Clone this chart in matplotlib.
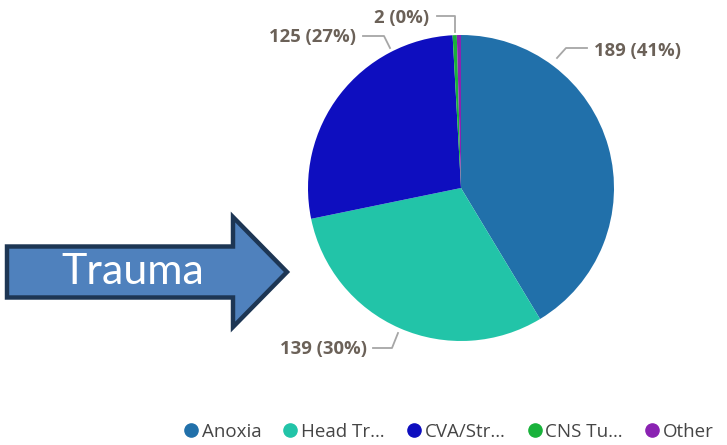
import numpy as np
import matplotlib
matplotlib.use("Agg")
import matplotlib.pyplot as plt
from matplotlib.patches import FancyArrow
from matplotlib.lines import Line2D

# data
categories = ["Anoxia", "Head Trauma", "CVA/Stroke", "CNS Tumor", "Other"]
legend_labels = ["Anoxia", "Head Tr…", "CVA/Str…", "CNS Tu…", "Other"]
values = [189, 139, 125, 2, 2]
pct_labels = ["189 (41%)", "139 (30%)", "125 (27%)", "2 (0%)"]
colors = ["#2170AA", "#22C4A8", "#0E0EBF", "#19B23B", "#8A22B2"]

W, H = 727, 445
fig = plt.figure(figsize=(W / 100, H / 100), dpi=100)
ax = fig.add_axes([0, 0, 1, 1])
ax.set_xlim(0, W)
ax.set_ylim(0, H)
ax.set_aspect("equal")
ax.axis("off")

cx, cy, r = 461, H - 188, 153
ax.pie(values, colors=colors, startangle=90, counterclock=False,
       center=(cx, cy), radius=r, frame=True,
       wedgeprops=dict(linewidth=0))
ax.set_xlim(0, W)
ax.set_ylim(0, H)
ax.axis("off")

# data labels with leader lines (positions in image pixels)
lc = "#A6A6A6"
tc = "#6B6158"
lab_font = dict(fontsize=13.3, fontweight="bold", color=tc, family="Open Sans")

def yy(v):
    return H - v

# 189 (41%)
ax.plot([557, 566, 587], [yy(58), yy(48), yy(48)], color=lc, lw=1.3)
ax.text(594, yy(51), pct_labels[0], ha="left", va="center", **lab_font)
# 139 (30%)
ax.plot([398, 392, 373], [yy(333), yy(348), yy(348)], color=lc, lw=1.3)
ax.text(367, yy(349), pct_labels[1], ha="right", va="center", **lab_font)
# 125 (27%)
ax.plot([390, 384, 363], [yy(48), yy(36), yy(36)], color=lc, lw=1.3)
ax.text(356, yy(37), pct_labels[2], ha="right", va="center", **lab_font)
# 2 (0%)
ax.plot([455, 455, 437], [yy(32), yy(16), yy(16)], color=lc, lw=1.3)
ax.text(429, yy(18), pct_labels[3], ha="right", va="center", **lab_font)

# arrow annotation
arrow = FancyArrow(7, yy(272), 280, 0, width=51, head_width=110,
                   head_length=54, length_includes_head=True,
                   facecolor="#4F81BD", edgecolor="#1D3654", linewidth=3.2,
                   joinstyle="miter")
ax.add_patch(arrow)
ax.text(133, yy(272), "Trauma", ha="center", va="center", color="white",
        fontsize=31, family="Lato")

# legend
handles = [Line2D([0], [0], marker="o", linestyle="", markersize=9.5,
                  markerfacecolor=c, markeredgecolor=c) for c in colors]
fig.legend(handles, legend_labels, loc="center right",
           bbox_to_anchor=(1.0, 1 - 432 / H), ncol=5, frameon=False,
           handletextpad=0.08, columnspacing=1.05, handlelength=1.0,
           borderpad=0.2, prop=dict(family="Open Sans", size=13.5),
           labelcolor="#454545")

fig.savefig("out.png", dpi=100)
